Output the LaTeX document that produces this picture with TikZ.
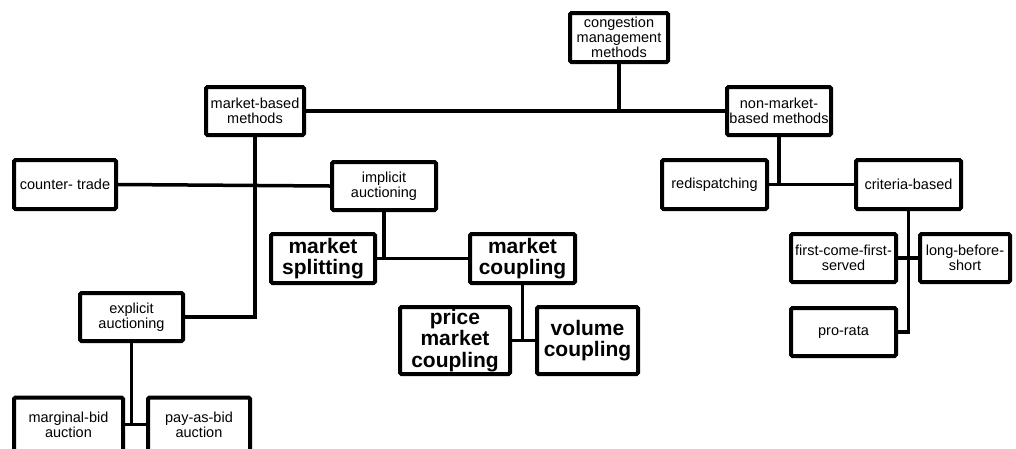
\documentclass[tikz,border=0pt]{standalone}
\usepackage{fontspec}
\setmainfont{Liberation Sans}
\begin{document}
\begin{tikzpicture}[x=1pt,y=-1pt,
  box/.style={draw=black, line width=4pt, rounded corners=1.5pt, fill=white, inner sep=0pt,
    align=center, font=\fontsize{14.5}{14.7}\selectfont},
  bigbox/.style={box, font=\fontsize{21}{21.7}\selectfont\bfseries},
  conn/.style={line width=3.5pt}]
\useasboundingbox (0,0) rectangle (1016,448);
\clip (0,0) rectangle (1016,448);
% nodes
\node[box, minimum width=98pt, minimum height=49pt] (cong) at (619,37.5) {congestion\\management\\methods};
\node[box, minimum width=98pt, minimum height=48pt] (mb) at (255,111) {market-based\\methods};
\node[box, minimum width=104pt, minimum height=48pt] (nmb) at (779,111) {non-market-\\based methods};
\node[box, minimum width=102pt, minimum height=49pt] (ct) at (65,184.5) {counter- trade};
\node[box, minimum width=104pt, minimum height=48pt] (impl) at (384,186) {implicit\\auctioning};
\node[bigbox, minimum width=104pt, minimum height=49pt] (ms) at (323,258.5) {market\\splitting};
\node[bigbox, minimum width=105pt, minimum height=49pt] (mc) at (522.5,258.5) {market\\coupling};
\node[bigbox, minimum width=110pt, minimum height=67pt] (pmc) at (455,340.5) {price\\market\\coupling};
\node[bigbox, minimum width=101pt, minimum height=67pt] (vc) at (587.5,340.5) {volume\\coupling};
\node[box, minimum width=105pt, minimum height=49pt] (red) at (714.5,184.5) {redispatching};
\node[box, minimum width=105pt, minimum height=49pt] (crit) at (908.5,184.5) {criteria-based};
\node[box, minimum width=105pt, minimum height=48pt] (fcfs) at (843.5,258) {first-come-first-\\served};
\node[box, minimum width=90pt, minimum height=48pt] (lbs) at (965,258) {long-before-\\short};
\node[box, minimum width=105pt, minimum height=48pt] (pr) at (843.5,332) {pro-rata};
\node[box, minimum width=103pt, minimum height=48pt] (ea) at (131.5,317) {explicit\\auctioning};
\node[box, minimum width=109pt, minimum height=54pt] (mba) at (68.5,424.5) {marginal-bid\\auction};
\node[box, minimum width=102pt, minimum height=54pt] (pab) at (199,424.5) {pay-as-bid\\auction};
% connectors
\begin{scope}[conn]
\draw (cong.south) -- (cong.south |- mb.east);
\draw (mb.east) -- (nmb.west);
\draw (mb.south) -- (mb.south |- ea.east) -- (ea.east);
\draw (ct.east) -- (impl.west);
\draw (impl.south) -- (impl.south |- ms.east);
\draw (ms.east) -- (mc.west);
\draw (mc.south) -- (mc.south |- pmc.east);
\draw (pmc.east) -- (vc.west);
\draw (nmb.south) -- (nmb.south |- red.east);
\draw (red.east) -- (crit.west);
\draw (crit.south) -- (crit.south |- pr.east) -- (pr.east);
\draw (fcfs.east) -- (lbs.west);
\draw (ea.south) -- (ea.south |- mba.east);
\draw (mba.east) -- (pab.west);
\end{scope}
\end{tikzpicture}
\end{document}
